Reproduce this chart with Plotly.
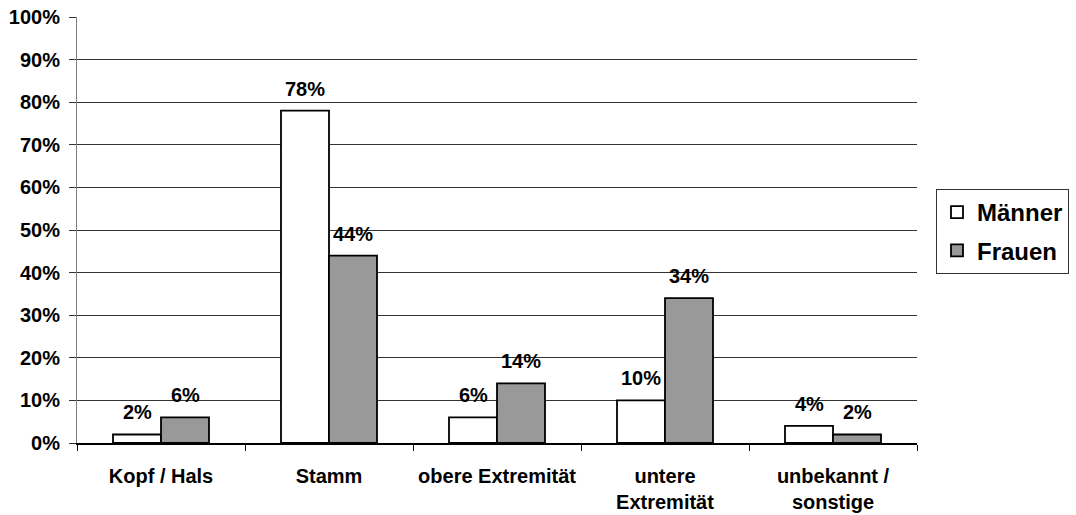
import plotly.graph_objects as go

# Body region categories and shares (percent) per sex
categories = ["Kopf / Hals", "Stamm", "obere Extremität", "untere<br>Extremität", "unbekannt /<br>sonstige"]
maenner = [2, 78, 6, 10, 4]
frauen = [6, 44, 14, 34, 2]
y_ticks = list(range(0, 101, 10))
y_tick_labels = [f"{v}%" for v in y_ticks]

FONT = "Arial, Liberation Sans, sans-serif"
BAR_W = 0.2857  # width of one bar in category units

fig = go.Figure()
fig.add_trace(go.Bar(
    name="<b>Männer</b>", x=categories, y=maenner,
    marker=dict(color="#ffffff", line=dict(color="#000000", width=1.8)),
    legendgroup="m",
))
fig.add_trace(go.Bar(
    name="<b>Frauen</b>", x=categories, y=frauen,
    marker=dict(color="#999999", line=dict(color="#000000", width=1.8)),
    legendgroup="f",
))

# Value labels above each bar, offset to the bar's slot in the group
annotations = []
for i, cat in enumerate(categories):
    for vals, dx in ((maenner, -BAR_W / 2), (frauen, BAR_W / 2)):
        annotations.append(dict(
            x=i + dx, y=vals[i], xref="x", yref="y",
            text=f"<b>{vals[i]}%</b>", showarrow=False,
            yanchor="bottom", yshift=9,
            font=dict(family=FONT, size=20, color="#000000"),
        ))

fig.update_layout(
    width=1076, height=515,
    margin=dict(l=77, r=159, t=17, b=72, autoexpand=False),
    paper_bgcolor="#ffffff", plot_bgcolor="#ffffff",
    barmode="group", bargap=0.4286, bargroupgap=0,
    font=dict(family=FONT, size=20, color="#000000"),
    annotations=annotations,
    legend=dict(
        xref="container", yref="container",
        x=936 / 1076, xanchor="left", y=1 - 189 / 515, yanchor="top",
        bordercolor="#333333", borderwidth=1,
        font=dict(family=FONT, size=24, color="#000000"),
        tracegroupgap=4, traceorder="grouped",
    ),
    xaxis=dict(
        type="category", range=[-0.5, 4.5], automargin=False,
        tickvals=categories, ticktext=[f"<b>{c}</b>" for c in categories],
        tickangle=0,
        showline=True, linecolor="#000000", linewidth=1.5,
        ticks="outside", ticklen=6, tickcolor="#000000", tickwidth=1,
        tickson="boundaries", ticklabelstandoff=14,
        tickfont=dict(family=FONT, size=20, color="#000000"),
        showgrid=False, zeroline=False,
    ),
    yaxis=dict(
        range=[0, 100], automargin=False,
        tickvals=y_ticks, ticktext=[f"<b>{t}</b>" for t in y_tick_labels],
        showline=True, linecolor="#808080", linewidth=1,
        ticks="outside", ticklen=7, tickcolor="#333333", tickwidth=1,
        ticklabelstandoff=5,
        tickfont=dict(family=FONT, size=20, color="#000000"),
        showgrid=True, gridcolor="#333333", gridwidth=1,
        zeroline=False,
    ),
)

fig.write_html("out.html")
